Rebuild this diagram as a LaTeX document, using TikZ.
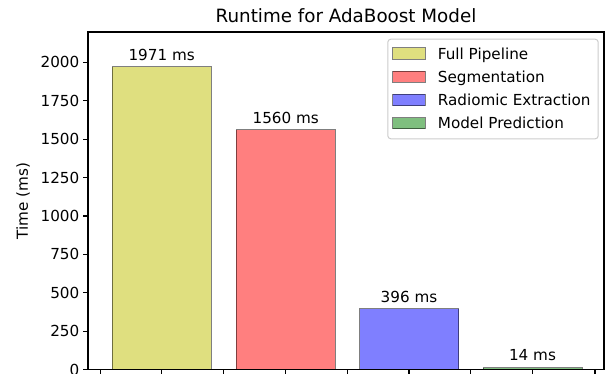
\documentclass[tikz,border=0pt]{standalone}
\usepackage{fontspec}
\setmainfont{DejaVu Sans}
\definecolor{barY}{rgb}{0.75,0.75,0}
\definecolor{barR}{rgb}{1,0,0}
\definecolor{barB}{rgb}{0,0,1}
\definecolor{barG}{rgb}{0,0.5,0}
\begin{document}
\begin{tikzpicture}[x=1pt,y=-1pt,
  lbl/.style={font=\fontsize{15.2}{18}\selectfont, inner sep=0pt},
  ttl/.style={font=\fontsize{18.3}{22}\selectfont, inner sep=0pt},
  barpatch/.style={fill=#1, fill opacity=0.5, draw=black, draw opacity=0.5, line width=1pt},
  spine/.style={draw=black, line width=1.1pt},
  tick/.style={draw=black, line width=1.1pt},
  legendbox/.style={draw=black!20, fill=white, fill opacity=0.8, line width=1pt,
    rounded corners=3pt, minimum width=210.4pt, minimum height=99.6pt, inner sep=0pt}]
\useasboundingbox (0,0) rectangle (607,373);

% bars: centre / value / colour / name
\foreach \cx/\v/\c/\nm in {161.7/1971/barY/full, 285.7/1560/barR/seg, 409/396/barB/rad, 532.5/14/barG/pred}{
  \pgfmathsetmacro{\top}{369.7-0.1537*\v}
  \draw[barpatch=\c] (\cx-49.5,369.7) rectangle (\cx+49.5,\top);
  \node[lbl, anchor=base] (val-\nm) at (\cx,\top-6.6) {\v{} ms};
}

% axes frame
\draw[spine] (88,32) rectangle (604,369.7);

% y ticks and labels
\foreach \v in {0,250,...,2000}{
  \pgfmathsetmacro{\yy}{369.7-0.1537*\v}
  \coordinate (yt-\v) at (88,\yy);
  \draw[tick] (yt-\v) -- ++(-5,0);
  \node[lbl, anchor=east] (yl-\v) at (79.5,\yy) {\v};
}

% x ticks
\foreach \xx [count=\i] in {100.7,161.7,223.3,285.7,347.3,409,470.7,532.3,595}{
  \coordinate (xt-\i) at (\xx,369.7);
  \draw[tick] (xt-\i) -- ++(0,6);
}

% axis label and title
\node[lbl, rotate=90] (ylab) at (23,201) {Time (ms)};
\node[ttl, anchor=base] (title) at (346,22.7) {Runtime for AdaBoost Model};

% legend
\node[legendbox, anchor=north west] (legend) at (387.3,38.7) {};
\foreach \c/\t [count=\i] in {barY/Full Pipeline, barR/Segmentation, barB/Radiomic Extraction, barG/Model Prediction}{
  \pgfmathsetmacro{\cy}{53.4+23.3*(\i-1)}
  \draw[barpatch=\c] (392.7,\cy-5.6) rectangle (425,\cy+5.6);
  \node[lbl, anchor=base west] (leg-\i) at (437.7,\cy+5.6) {\t};
}
\end{tikzpicture}
\end{document}
